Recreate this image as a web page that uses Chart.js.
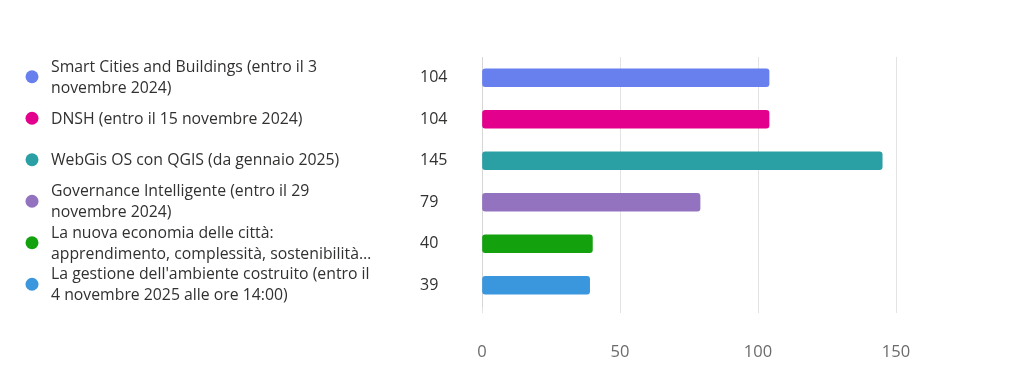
<!DOCTYPE html>
<html><head><meta charset="utf-8">
<script src="https://cdn.jsdelivr.net/npm/chart.js@4/dist/chart.umd.min.js"></script>
<style>html,body{margin:0;padding:0;background:#fff;}#wrap{width:1024px;height:384px;}</style>
</head><body><div id="wrap"><canvas id="c" width="1024" height="384"></canvas></div>
<script>
const categories = [
  ["Smart Cities and Buildings (entro il 3", "novembre 2024)"],
  ["DNSH (entro il 15 novembre 2024)"],
  ["WebGis OS con QGIS (da gennaio 2025)"],
  ["Governance Intelligente (entro il 29", "novembre 2024)"],
  ["La nuova economia delle città:", "apprendimento, complessità, sostenibilità…"],
  ["La gestione dell'ambiente costruito (entro il", "4 novembre 2025 alle ore 14:00)"]
];
const responses = [104, 104, 145, 79, 40, 39];
const colors = ["#6780ee", "#e3008c", "#2a9fa4", "#9373c0", "#13a10e", "#3a96dd"];
const xTicks = [0, 50, 100, 150];

const FONT = "'Open Sans', 'Noto Sans', sans-serif";

const dotPlugin = {
  id: 'dots',
  afterDraw(chart) {
    const ctx = chart.ctx, s = chart.scales.y;
    ctx.save();
    responses.forEach((v, i) => {
      const y = s.getPixelForValue(i);
      ctx.beginPath();
      ctx.arc(32, y - 1, 6.5, 0, Math.PI * 2);
      ctx.fillStyle = colors[i];
      ctx.fill();
    });
    ctx.restore();
  }
};

function noPad(scale, w) {
  scale.width = w;
  scale.paddingTop = 0;
  scale.paddingBottom = 0;
}

new Chart(document.getElementById('c'), {
  type: 'bar',
  data: {
    labels: categories,
    datasets: [{
      data: responses,
      backgroundColor: colors,
      borderColor: colors,
      borderWidth: 0,
      borderRadius: 3,
      borderSkipped: false,
      barThickness: 18,
      yAxisID: 'y'
    }]
  },
  options: {
    indexAxis: 'y',
    responsive: false,
    animation: false,
    layout: { padding: { left: 51, right: 128, top: 57, bottom: 0 } },
    plugins: { legend: { display: false }, tooltip: { enabled: false } },
    scales: {
      x: {
        min: 0, max: 150,
        afterBuildTicks(scale) { scale.ticks = xTicks.map(v => ({ value: v })); },
        afterFit(scale) { scale.height = 78; },
        grid: { color: '#e3e3e3', drawTicks: true, tickLength: 7, tickColor: '#e3e3e3' },
        border: { display: false },
        ticks: { padding: 29, color: '#6b6b6b', font: { family: FONT, size: 16.5 } }
      },
      y: {
        type: 'category',
        position: 'left',
        weight: 2,
        offset: true,
        grid: { display: false, drawTicks: false },
        border: { display: false },
        afterFit(scale) { noPad(scale, 369); },
        ticks: { autoSkip: false, crossAlign: 'far', padding: 0, color: '#323130', font: { family: FONT, size: 15.8, lineHeight: 1.33 } }
      },
      yv: {
        type: 'category',
        position: 'left',
        weight: 1,
        offset: true,
        labels: responses.map(String),
        grid: { display: false, drawTicks: false },
        border: { display: true, color: '#d6d6d6' },
        afterFit(scale) { noPad(scale, 62); },
        ticks: { autoSkip: false, crossAlign: 'far', padding: 0, color: '#323130', font: { family: FONT, size: 16 } }
      }
    }
  },
  plugins: [dotPlugin]
});
</script></body></html>
